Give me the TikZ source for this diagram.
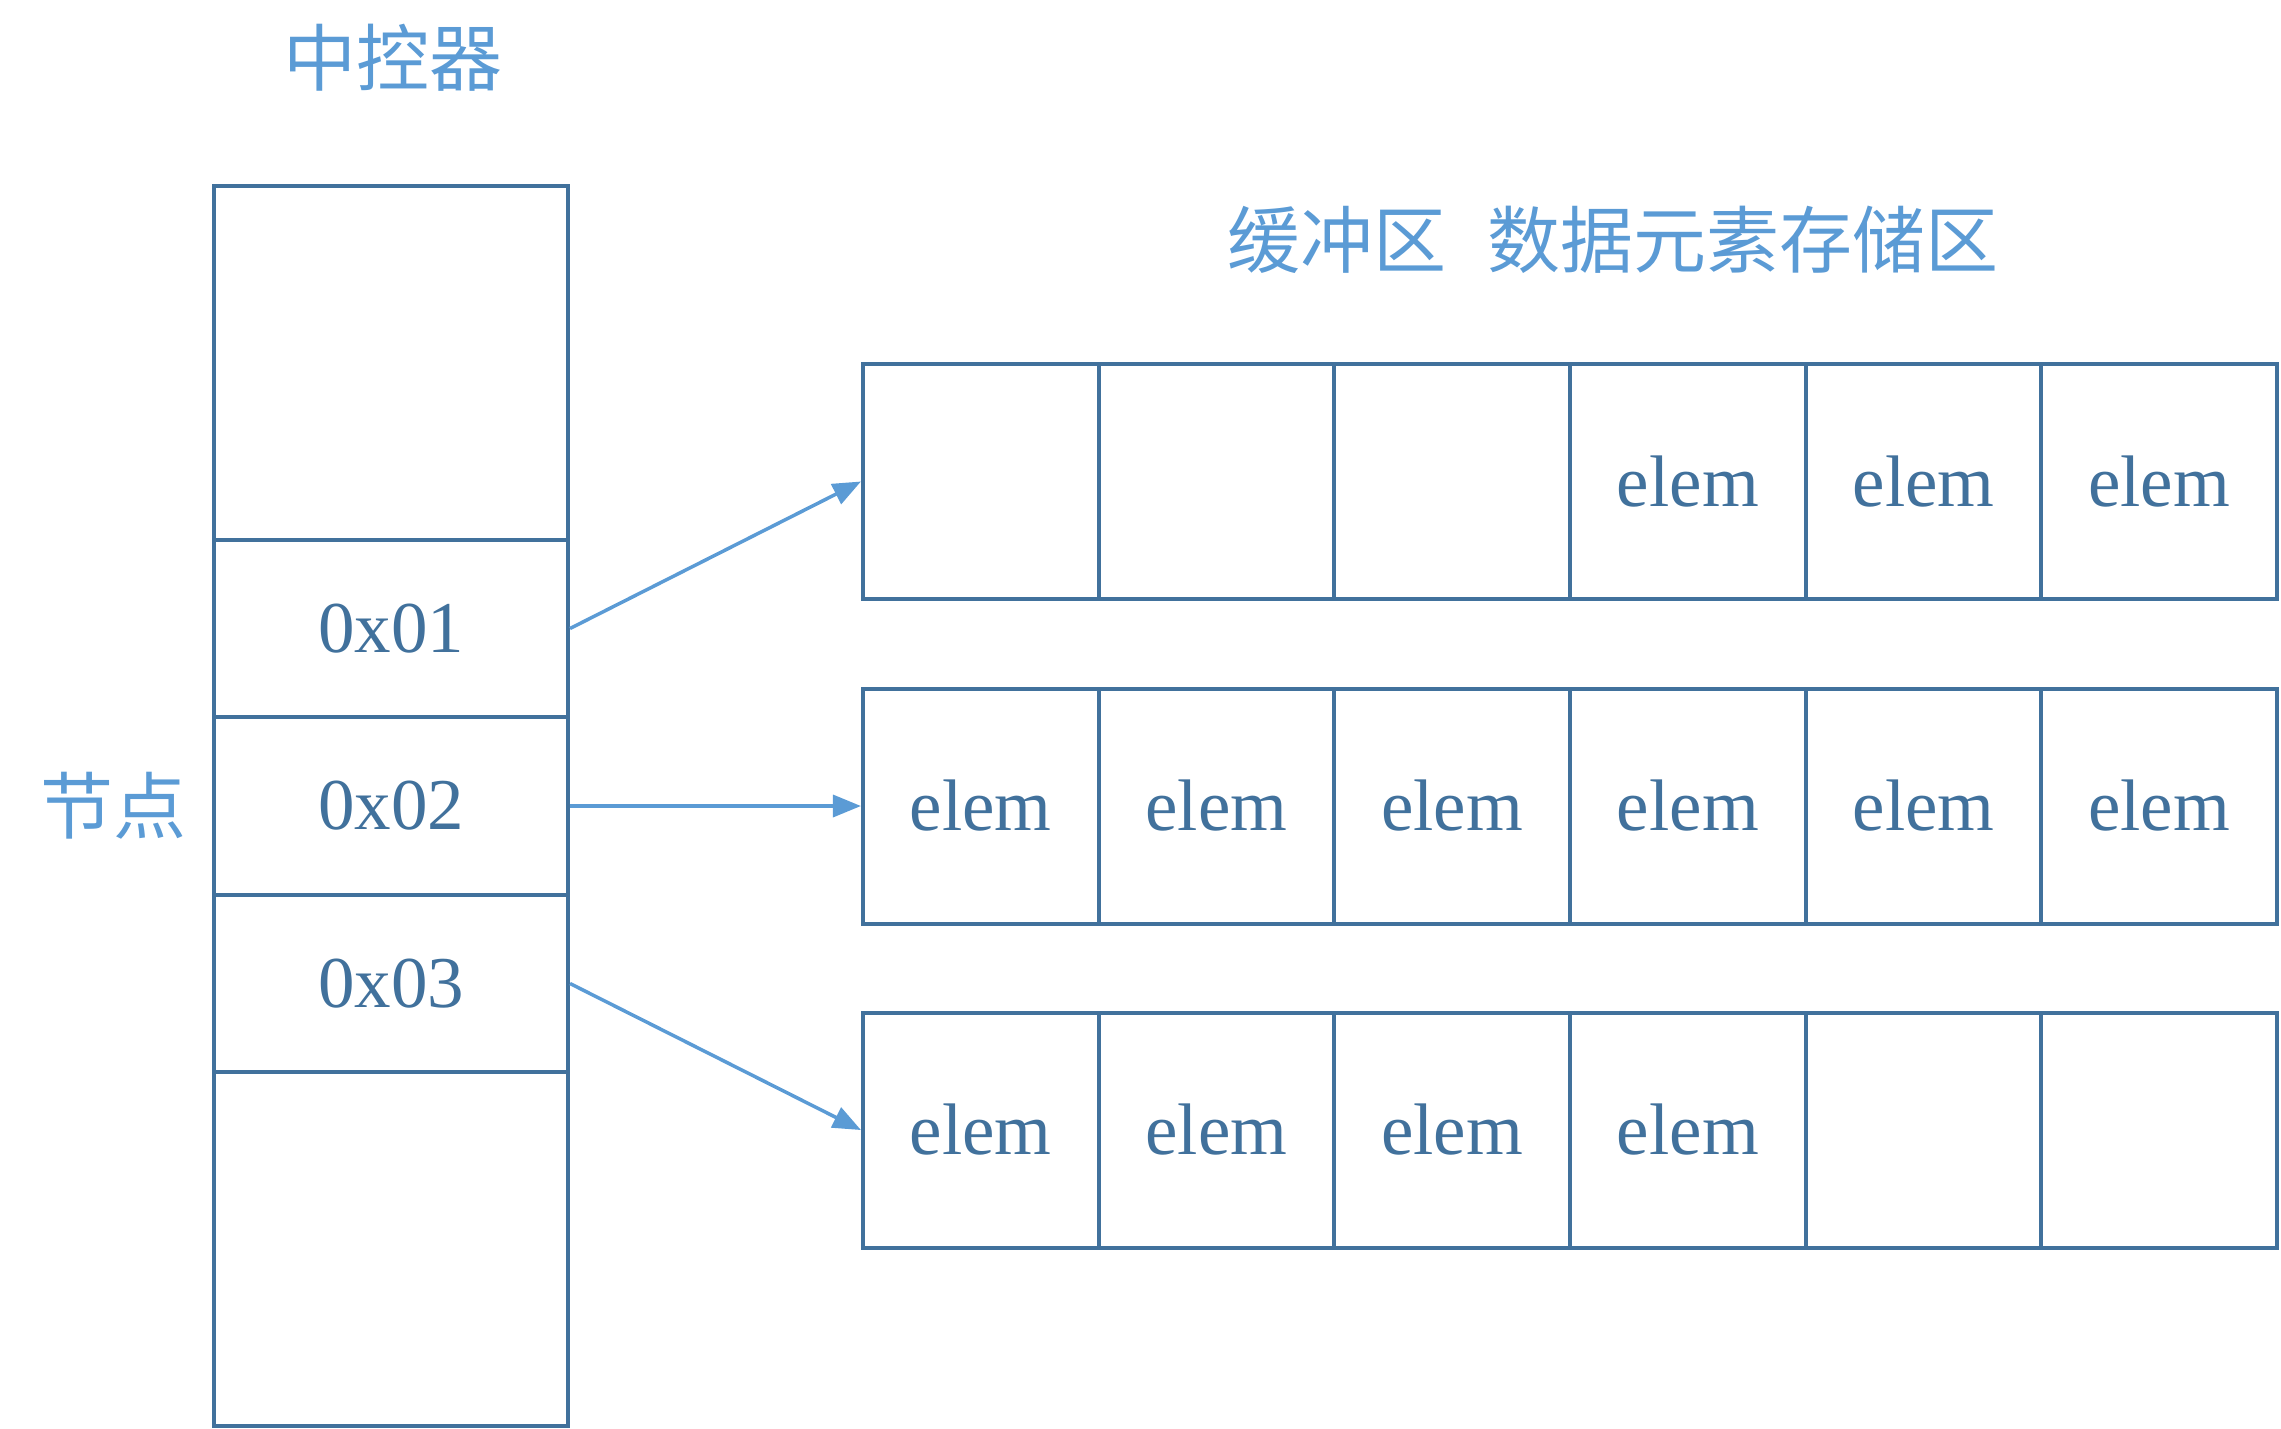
\documentclass[tikz,border=0pt]{standalone}
\usepackage{fontspec}
\setmainfont{Liberation Serif}
\newfontfamily\cjk{Noto Sans CJK SC}
\usetikzlibrary{arrows.meta}
\definecolor{boxc}{HTML}{41719C}
\definecolor{lblc}{HTML}{5B9BD5}
\begin{document}
\begin{tikzpicture}[x=1pt,y=-1pt,
  cell/.style={draw=boxc,line width=4pt,inner sep=0pt,text=boxc,
    font=\fontsize{73}{78}\selectfont},
  lcell/.style={cell,minimum width=354pt},
  gcell/.style={cell,minimum width=235.7pt,minimum height=235pt},
  lbl/.style={text=lblc,font=\cjk\fontsize{73}{78}\selectfont,inner sep=0pt},
  conn/.style={draw=lblc,line width=3.5pt,-{Triangle[length=28pt,width=22pt]}}]
\useasboundingbox (0,0) rectangle (2281,1428);
% left column
\node[lcell,minimum height=354pt] (l0) at (391,363) {};
\node[lcell,minimum height=177pt] (l1) at (391,628.5) {0x01};
\node[lcell,minimum height=178pt] (l2) at (391,806) {0x02};
\node[lcell,minimum height=177pt] (l3) at (391,983.5) {0x03};
\node[lcell,minimum height=354pt] (l4) at (391,1249) {};
% labels
\node[lbl] (t1) at (393,58) {中控器};
\node[lbl] (t2) at (1613,240) {缓冲区\hspace{42pt}数据元素存储区};
\node[lbl] (t3) at (113,806) {节点};
% grid
\foreach \r/\y/\a/\b/\c/\d/\e/\f in {1/481.5/{}/{}/{}/elem/elem/elem,
                           2/806/elem/elem/elem/elem/elem/elem,
                           3/1130/elem/elem/elem/elem/{}/{}}{
  \node[gcell] (r\r c1) at (980.8,\y) {\a};
  \node[gcell] (r\r c2) at (1216.5,\y) {\b};
  \node[gcell] (r\r c3) at (1452.2,\y) {\c};
  \node[gcell] (r\r c4) at (1687.8,\y) {\d};
  \node[gcell] (r\r c5) at (1923.5,\y) {\e};
  \node[gcell] (r\r c6) at (2159.2,\y) {\f};
}
% connectors
\draw[conn] (l1.east) -- (r1c1.west);
\draw[conn] (l2.east) -- (r2c1.west);
\draw[conn] (l3.east) -- (r3c1.west);
\end{tikzpicture}
\end{document}
